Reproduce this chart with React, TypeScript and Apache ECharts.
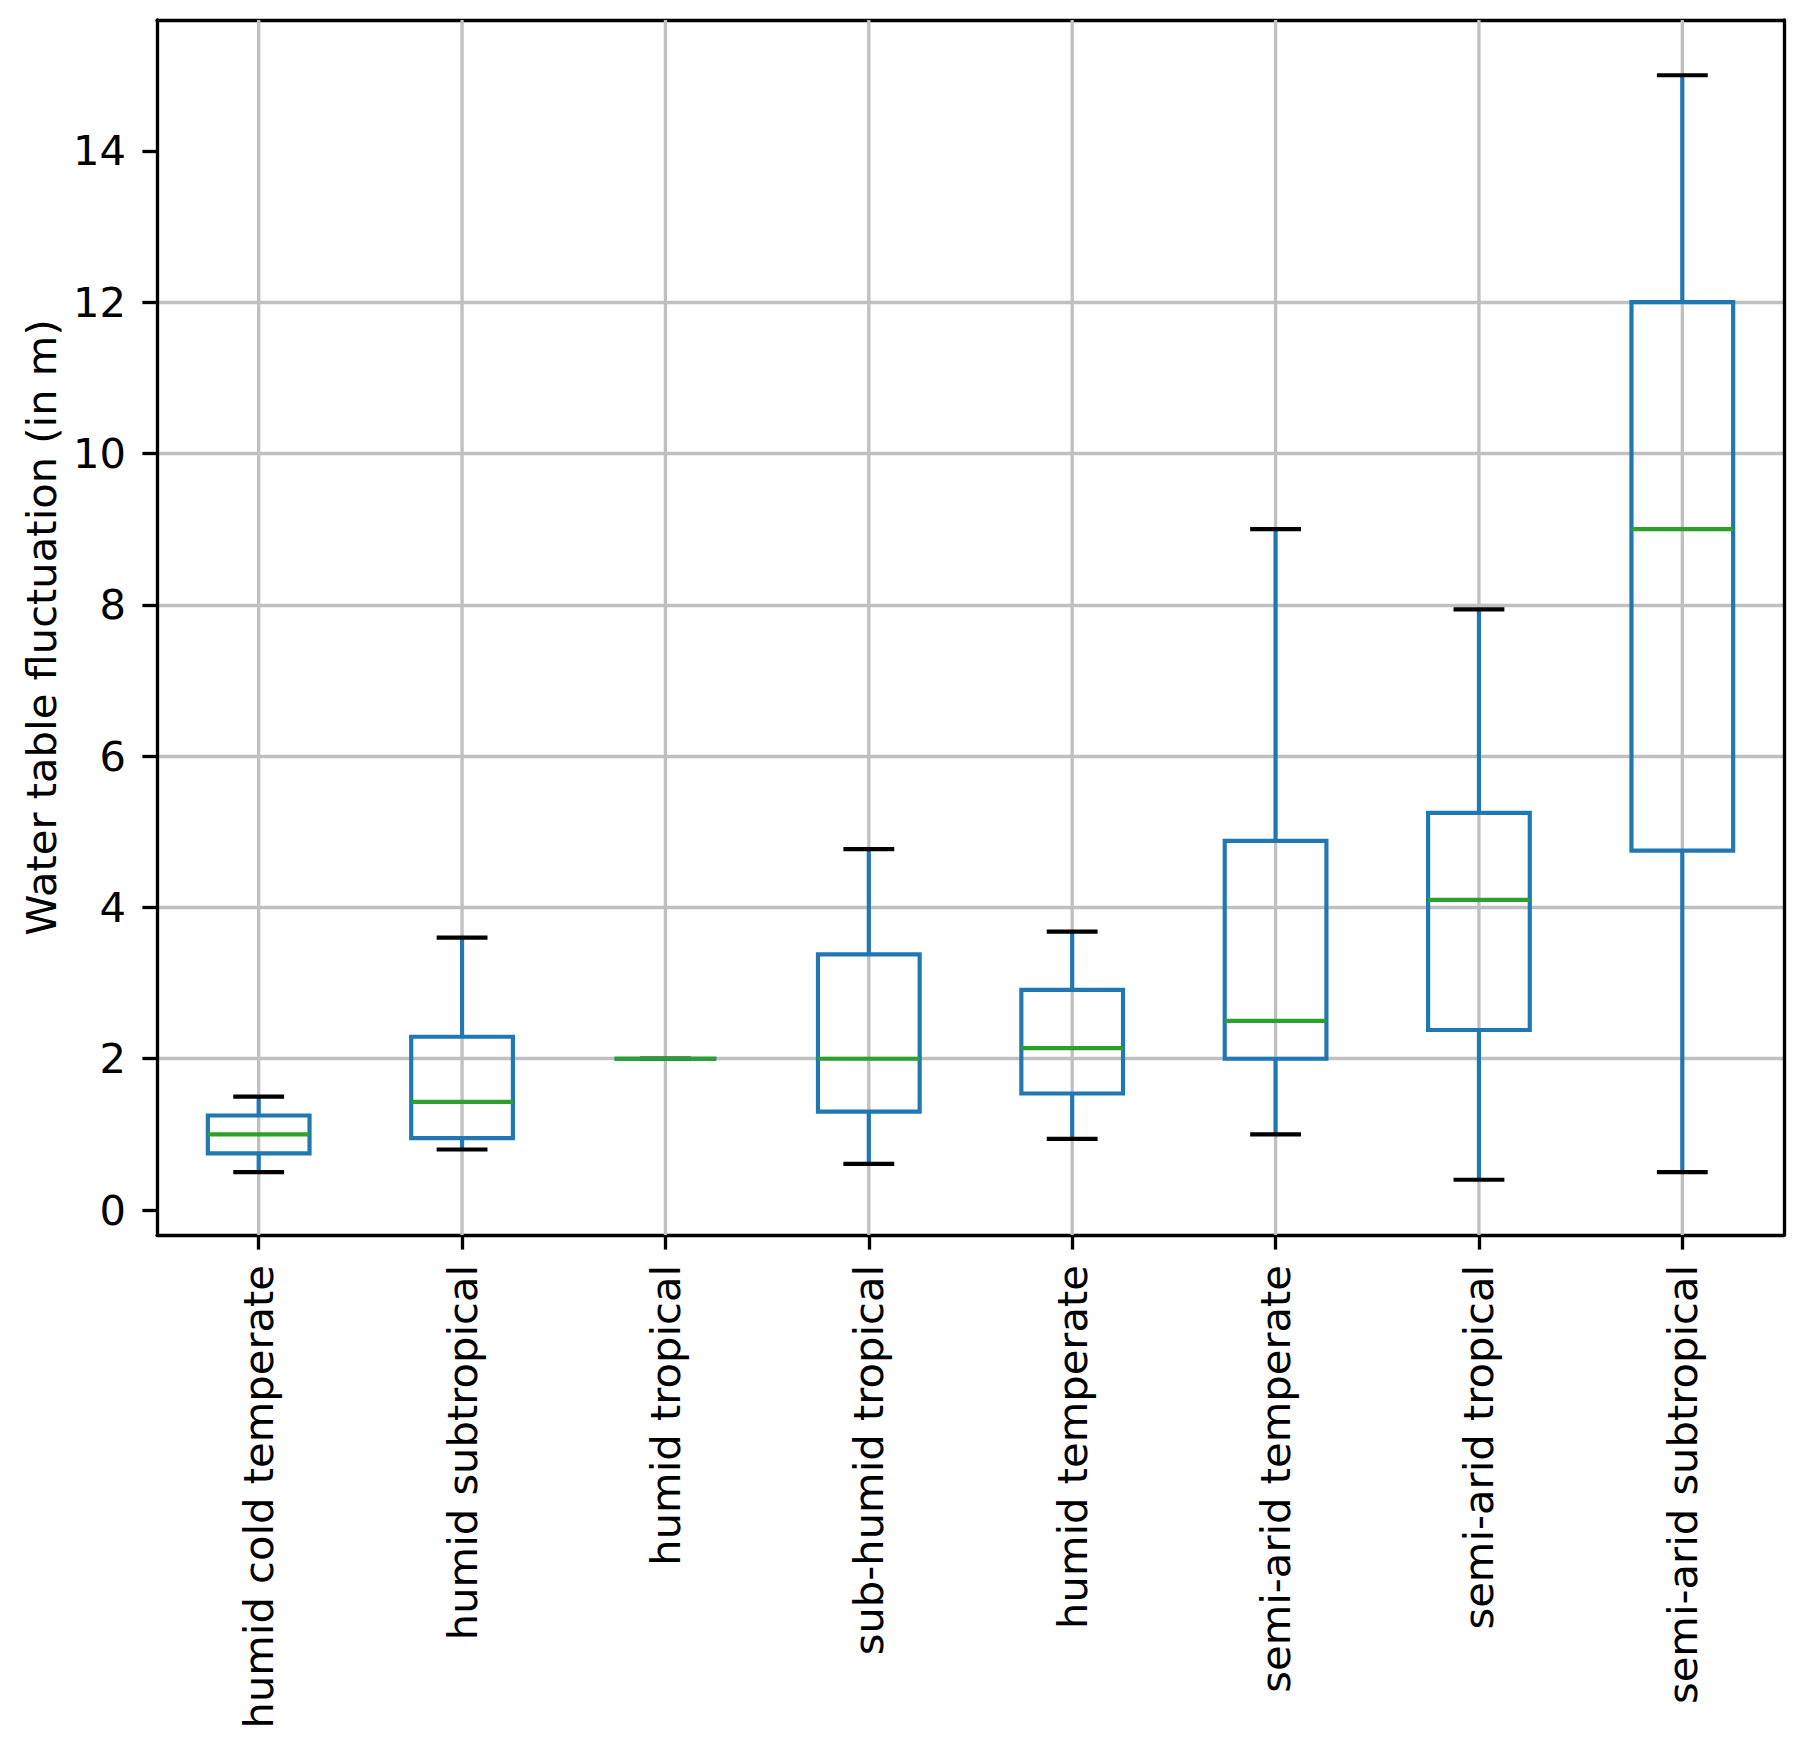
import React, { useEffect, useRef } from "react";
import * as echarts from "echarts";

const categories = [
  "humid cold temperate",
  "humid subtropical",
  "humid tropical",
  "sub-humid tropical",
  "humid temperate",
  "semi-arid temperate",
  "semi-arid tropical",
  "semi-arid subtropical",
];
const whiskerLow = [0.5, 0.8, 2.0, 0.61, 0.94, 1.0, 0.4, 0.5];
const q1 = [0.75, 0.95, 2.0, 1.3, 1.54, 2.0, 2.38, 4.75];
const median = [1.0, 1.43, 2.0, 2.0, 2.14, 2.5, 4.1, 9.0];
const q3 = [1.25, 2.29, 2.0, 3.38, 2.91, 4.88, 5.25, 12.0];
const whiskerHigh = [1.5, 3.6, 2.0, 4.77, 3.68, 9.0, 7.94, 15.0];
const yTicks = [0, 2, 4, 6, 8, 10, 12, 14];
const yName = "Water table fluctuation (in m)";

const FONT = "DejaVu Sans";
const FS = 41.67;
const LW = 4.17;
const AXW = 3.33;
const GRID = "#c0c0c0";

export default function App() {
  const ref = useRef<HTMLDivElement>(null);
  useEffect(() => {
    if (!ref.current) return;
    const chart = echarts.init(ref.current, null, { renderer: "svg" });
    const data = categories.map((_, i) => [
      i,
      whiskerLow[i],
      q1[i],
      median[i],
      q3[i],
      whiskerHigh[i],
    ]);
    const option: any = {
      animation: false,
      backgroundColor: "#ffffff",
      grid: { left: 157, right: 20, top: 20, bottom: 508, containLabel: false },
      xAxis: [
        {
          type: "category",
          data: categories,
          boundaryGap: true,
          position: "bottom",
          axisLine: { show: true, onZero: false, lineStyle: { color: "#000", width: AXW } },
          axisTick: {
            show: true,
            alignWithLabel: true,
            length: 14.6,
            lineStyle: { color: "#000", width: AXW },
          },
          axisLabel: {
            show: true,
            interval: 0,
            rotate: 90,
            margin: 30,
            color: "#000",
            fontFamily: FONT,
            fontSize: FS,
          },
          splitLine: { show: false },
        },
        {
          type: "category",
          data: categories,
          position: "top",
          axisLine: { show: true, onZero: false, lineStyle: { color: "#000", width: AXW } },
          axisTick: { show: false },
          axisLabel: { show: false },
          splitLine: { show: false },
        },
      ],
      yAxis: [
        {
          type: "value",
          position: "left",
          min: -0.33,
          max: 15.73,
          minInterval: 2,
          maxInterval: 2,
          splitNumber: 8,
          name: yName,
          nameLocation: "middle",
          nameRotate: 90,
          nameGap: 95,
          nameTextStyle: { color: "#000", fontFamily: FONT, fontSize: FS },
          axisLine: { show: true, onZero: false, lineStyle: { color: "#000", width: AXW } },
          axisTick: {
            show: true,
            length: 14.6,
            customValues: yTicks,
            lineStyle: { color: "#000", width: AXW },
          },
          axisLabel: {
            show: true,
            margin: 31,
            customValues: yTicks,
            color: "#000",
            fontFamily: FONT,
            fontSize: FS,
          },
          splitLine: {
            show: true,
            showMinLine: false,
            showMaxLine: false,
            lineStyle: { color: GRID, width: AXW },
          },
        },
        {
          type: "value",
          position: "right",
          min: -0.33,
          max: 15.73,
          axisLine: { show: true, onZero: false, lineStyle: { color: "#000", width: AXW } },
          axisTick: { show: false },
          axisLabel: { show: false },
          splitLine: { show: false },
        },
      ],
      series: [
        {
          type: "custom",
          name: "grid",
          z: 1,
          silent: true,
          data: data,
          encode: { x: 0, y: 3 },
          renderItem: (params: any, api: any) => {
            const p = api.coord([api.value(0), api.value(3)]);
            const cs = params.coordSys;
            return {
              type: "line",
              shape: { x1: p[0], y1: cs.y, x2: p[0], y2: cs.y + cs.height },
              style: { stroke: GRID, lineWidth: AXW },
            };
          },
        },
        {
          type: "custom",
          name: "box",
          z: 3,
          data: data,
          encode: { x: 0, y: [1, 2, 3, 4, 5] },
          renderItem: (params: any, api: any) => {
            const xi = api.value(0);
            const pLow = api.coord([xi, api.value(1)]);
            const pQ1 = api.coord([xi, api.value(2)]);
            const pMed = api.coord([xi, api.value(3)]);
            const pQ3 = api.coord([xi, api.value(4)]);
            const pHigh = api.coord([xi, api.value(5)]);
            const band = api.size([1, 0])[0];
            const hb = band * 0.25;
            const hc = band * 0.125;
            const cx = pMed[0];
            const blue = "#1f77b4";
            return {
              type: "group",
              children: [
                {
                  type: "line",
                  shape: { x1: cx, y1: pQ1[1], x2: cx, y2: pLow[1] },
                  style: { stroke: blue, lineWidth: LW },
                },
                {
                  type: "line",
                  shape: { x1: cx, y1: pQ3[1], x2: cx, y2: pHigh[1] },
                  style: { stroke: blue, lineWidth: LW },
                },
                {
                  type: "line",
                  shape: { x1: cx - hc, y1: pLow[1], x2: cx + hc, y2: pLow[1] },
                  style: { stroke: "#000", lineWidth: LW },
                },
                {
                  type: "line",
                  shape: { x1: cx - hc, y1: pHigh[1], x2: cx + hc, y2: pHigh[1] },
                  style: { stroke: "#000", lineWidth: LW },
                },
                {
                  type: "polygon",
                  shape: {
                    points: [
                      [cx - hb, pQ1[1]],
                      [cx + hb, pQ1[1]],
                      [cx + hb, pQ3[1]],
                      [cx - hb, pQ3[1]],
                    ],
                  },
                  style: { fill: "none", stroke: blue, lineWidth: LW, lineJoin: "miter" },
                },
                {
                  type: "line",
                  shape: { x1: cx - hb, y1: pMed[1], x2: cx + hb, y2: pMed[1] },
                  style: { stroke: "#2ca02c", lineWidth: LW },
                },
              ],
            };
          },
        },
      ],
    };
    chart.setOption(option);
    return () => chart.dispose();
  }, []);
  return (
    <div
      ref={ref}
      style={{ position: "absolute", left: 0, top: 0, width: 1804, height: 1743 }}
    />
  );
}
